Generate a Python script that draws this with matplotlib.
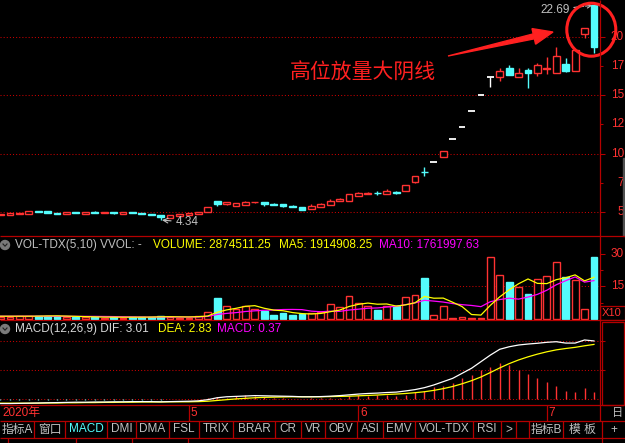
import matplotlib
matplotlib.use("Agg")
import matplotlib.pyplot as plt
from matplotlib.patches import Rectangle, Ellipse, Polygon, Circle
from matplotlib.transforms import blended_transform_factory as blend

# TDX dark theme colours
RED = "#ff3232"
CYAN = "#54fcfc"
GRID = "#c80000"
FRAME = "#b40000"
GRAY = "#c0c0c0"
YEL = "#ffff00"
MAG = "#ff00ff"

plt.rcParams["font.family"] = ["Liberation Sans", "Noto Sans CJK SC", "DejaVu Sans"]

# === DAILY K-LINE (Apr - Jul 2020) ===
opens = [4.74, 4.80, 4.85, 4.88, 5.11, 5.11, 4.97, 4.85, 5.03, 4.85,
         5.03, 4.97, 5.03, 4.85, 5.03, 4.94, 4.85, 4.77, 4.51, 4.71,
         4.80, 4.85, 5.05, 5.95, 5.73, 5.56, 5.65, 5.85, 5.88, 5.71,
         5.68, 5.56, 5.45, 5.26, 5.48, 5.65, 5.96, 5.99, 6.42, 6.56,
         6.67, 6.59, 6.73, 6.84, 7.61, 8.47, 9.27, 9.75, 11.23, 12.31,
         13.62, 14.99, 16.53, 16.53, 17.30, 16.53, 17.15, 16.92, 17.21, 16.87,
         17.64, 17.09, 20.20, 22.69]
closes = [4.88, 4.91, 4.97, 5.11, 5.03, 4.94, 4.88, 5.03, 4.94, 5.03,
          4.97, 5.03, 4.97, 5.03, 4.97, 4.88, 4.77, 4.60, 4.77, 4.85,
          4.94, 5.03, 5.43, 5.73, 5.85, 5.77, 5.90, 5.92, 5.71, 5.62,
          5.53, 5.43, 5.20, 5.54, 5.68, 5.94, 6.16, 6.54, 6.65, 6.67,
          6.62, 6.82, 6.67, 7.32, 8.07, 8.43, 9.27, 10.23, 11.23, 12.31,
          13.62, 14.99, 16.53, 17.09, 16.70, 16.90, 16.92, 17.58, 17.30, 18.35,
          17.07, 18.86, 20.71, 19.14]
highs = [4.88, 4.91, 4.97, 5.11, 5.11, 5.11, 4.97, 5.03, 5.03, 5.03,
         5.10, 5.03, 5.03, 5.03, 5.03, 4.94, 4.85, 4.77, 4.77, 4.85,
         4.94, 5.03, 5.43, 5.95, 5.90, 5.82, 5.98, 5.92, 5.88, 5.82,
         5.68, 5.65, 5.45, 5.74, 5.77, 6.14, 6.25, 6.60, 6.76, 6.76,
         6.84, 7.00, 6.82, 7.32, 8.07, 8.87, 9.27, 10.23, 11.23, 12.31,
         13.62, 14.99, 16.53, 17.30, 17.60, 17.30, 17.30, 17.78, 18.29, 19.10,
         18.15, 18.86, 20.71, 22.69]
lows = [4.74, 4.80, 4.85, 4.88, 5.03, 4.94, 4.88, 4.85, 4.94, 4.85,
        4.97, 4.97, 4.88, 4.85, 4.97, 4.88, 4.77, 4.34, 4.51, 4.71,
        4.80, 4.85, 5.05, 5.57, 5.65, 5.56, 5.65, 5.78, 5.57, 5.62,
        5.45, 5.43, 5.20, 5.26, 5.48, 5.65, 5.96, 5.99, 6.42, 6.56,
        6.48, 6.59, 6.54, 6.84, 7.48, 8.13, 9.27, 9.75, 11.23, 12.31,
        13.62, 14.99, 15.73, 16.24, 16.70, 16.53, 15.59, 16.64, 16.81, 16.87,
        17.00, 17.09, 19.86, 18.58]

# volume, in units of 100k (axis marked X10)
volume = [0.9, 1.0, 1.4, 1.4, 1.5, 1.3, 1.2, 0.9, 0.8, 0.8,
          0.8, 0.6, 0.9, 0.6, 0.9, 0.8, 0.8, 1.5, 0.8, 0.6,
          0.6, 1.4, 3.1, 9.4, 6.0, 4.3, 6.0, 4.6, 3.4, 1.8,
          2.8, 1.8, 2.2, 2.5, 3.1, 6.8, 5.5, 10.5, 7.5, 6.0,
          4.2, 6.0, 5.7, 10.2, 10.9, 18.9, 1.8, 6.0, 0.6, 0.9,
          0.6, 0.5, 28.5, 20.2, 17.1, 14.6, 11.5, 18.3, 19.7, 26.2,
          19.1, 18.0, 4.5, 28.7]
vol_ma5 = [1.2, 1.2, 1.2, 1.2, 1.24, 1.32, 1.36, 1.26, 1.14, 1.0,
           0.9, 0.78, 0.78, 0.74, 0.76, 0.76, 0.8, 0.92, 0.96, 0.9,
           0.86, 0.98, 1.3, 3.02, 4.1, 4.84, 5.76, 6.06, 4.86, 4.02,
           3.72, 2.88, 2.4, 2.22, 2.48, 3.28, 4.02, 5.68, 6.68, 7.26,
           6.74, 6.84, 5.88, 6.42, 7.4, 10.34, 9.5, 9.56, 7.64, 5.64,
           1.98, 1.72, 6.22, 10.14, 13.38, 16.18, 18.38, 16.34, 16.24, 18.06,
           18.96, 20.26, 17.5, 19.15]
vol_ma10 = [1.2, 1.2, 1.2, 1.2, 1.2, 1.2, 1.15, 1.15, 1.12, 1.12,
            1.11, 1.07, 1.02, 0.94, 0.88, 0.83, 0.79, 0.85, 0.85, 0.83,
            0.81, 0.89, 1.11, 1.99, 2.5, 2.85, 3.37, 3.68, 3.94, 4.06,
            4.28, 4.32, 4.23, 3.54, 3.25, 3.5, 3.45, 4.04, 4.45, 4.87,
            5.01, 5.43, 5.78, 6.55, 7.33, 8.54, 8.17, 7.72, 7.03, 6.52,
            6.16, 5.61, 7.89, 8.89, 9.51, 9.08, 10.05, 11.28, 13.19, 15.72,
            17.57, 19.32, 16.92, 17.62]

# MACD(12,26,9)
dif = [-0.22, -0.22, -0.21, -0.20, -0.19, -0.18, -0.17, -0.16, -0.15, -0.15,
       -0.14, -0.14, -0.13, -0.13, -0.12, -0.12, -0.12, -0.13, -0.12, -0.11,
       -0.10, -0.08, -0.02, 0.08, 0.13, 0.15, 0.17, 0.19, 0.18, 0.17,
       0.16, 0.15, 0.13, 0.13, 0.14, 0.16, 0.19, 0.23, 0.27, 0.30,
       0.32, 0.35, 0.37, 0.43, 0.50, 0.60, 0.74, 0.91, 1.08, 1.34,
       1.60, 1.94, 2.28, 2.58, 2.71, 2.80, 2.85, 2.89, 2.94, 2.97,
       2.90, 2.90, 3.06, 3.01]
dea = [-0.20, -0.20, -0.20, -0.20, -0.20, -0.19, -0.19, -0.18, -0.18, -0.17,
       -0.17, -0.16, -0.16, -0.15, -0.15, -0.14, -0.14, -0.14, -0.13, -0.13,
       -0.13, -0.12, -0.10, -0.06, -0.02, 0.02, 0.05, 0.08, 0.10, 0.11,
       0.12, 0.13, 0.13, 0.13, 0.13, 0.14, 0.15, 0.16, 0.18, 0.20,
       0.22, 0.25, 0.27, 0.30, 0.34, 0.39, 0.46, 0.55, 0.66, 0.80,
       0.96, 1.15, 1.38, 1.62, 1.84, 2.03, 2.19, 2.33, 2.45, 2.55,
       2.62, 2.68, 2.76, 2.83]
macd = [-0.03, -0.03, -0.02, -0.02, -0.02, -0.02, -0.02, -0.02, -0.02, -0.02,
        -0.02, -0.02, -0.02, -0.02, -0.02, -0.02, -0.02, -0.02, 0.02, 0.02,
        0.02, 0.03, 0.09, 0.14, 0.09, 0.17, 0.22, 0.17, 0.14, 0.09,
        0.05, 0.04, 0.03, 0.05, 0.05, 0.09, 0.09, 0.17, 0.22, 0.17,
        0.22, 0.22, 0.17, 0.22, 0.36, 0.43, 0.65, 0.70, 0.82, 1.08,
        1.25, 1.51, 1.68, 1.86, 1.77, 1.51, 1.29, 1.08, 0.91, 0.69,
        0.43, 0.40, 0.57, 0.37]

# right-axis labels: the window only shows the first digits of each label
price_ticks = [5, 10, 15, 20]
price_half = [7.5, 12.5, 17.5]
price_labels = {5: "5", 7.5: "7", 10: "10", 12.5: "12", 15: "15", 17.5: "17", 20: "20"}
vol_ticks = [15, 30]
vol_labels = {15: "15", 30: "30"}
month_pos = [20, 38, 58]
month_labels = ["5", "6", "7"]
tab_labels = ["指标A", "窗口", "MACD", "DMI", "DMA", "FSL", "TRIX", "BRAR", "CR", "VR",
              "OBV", "ASI", "EMV", "VOL-TDX", "RSI", ">", "", "指标B", "模 板", "+"]
tab_edges = [0, 34, 65, 107, 136, 169, 199, 233, 275, 301, 325, 357, 383, 415,
             473, 501, 516, 529, 563, 602, 625]

W, H = 625, 443
fig = plt.figure(figsize=(6.25, 4.43), dpi=100, facecolor="black")


def box(x0, y0, x1, y1):
    return [x0 / W, 1 - y1 / H, (x1 - x0) / W, (y1 - y0) / H]


XL, XR = -0.053, 63.64
BW = 0.72


def setup(ax, ylim):
    ax.set_facecolor("black")
    ax.set_xlim(XL, XR)
    ax.set_ylim(*ylim)
    for s in ax.spines.values():
        s.set_visible(False)
    ax.tick_params(axis="x", which="both", bottom=False, labelbottom=False)
    ax.yaxis.tick_right()
    ax.tick_params(axis="y", which="both", left=False, labelleft=False, right=True,
                   labelright=False, color=FRAME, width=0.75, direction="out")
    ax.tick_params(axis="y", which="major", length=3.6)
    ax.tick_params(axis="y", which="minor", length=2.2)


def right_labels(ax, labels):
    tr = blend(ax.transAxes, ax.transData)
    for v, lab in labels.items():
        ax.text(624 / 600, v, lab, transform=tr, ha="right", va="center",
                color=RED, fontsize=8.5, clip_on=False)


def hgrid(ax, vals):
    for v in vals:
        ax.axhline(v, color=GRID, lw=0.75, ls=(0, (1, 2)), zorder=0)


# ---------- price panel ----------
ax_p = fig.add_axes(box(0, 0, 600, 236))
setup(ax_p, (2.976, 23.13))
ax_p.set_yticks(price_ticks)
ax_p.set_yticks(price_half, minor=True)
hgrid(ax_p, price_ticks)
right_labels(ax_p, price_labels)

for i in range(len(opens)):
    o, c, h, l = opens[i], closes[i], highs[i], lows[i]
    if o == c:
        ax_p.vlines(i, l, h, color="white", lw=1.0, zorder=2)
        ax_p.hlines(c, i - BW / 2, i + BW / 2, color="white", lw=1.3, zorder=3)
    elif c > o:
        ax_p.vlines(i, c, h, color=RED, lw=1.0, zorder=2)
        ax_p.vlines(i, l, o, color=RED, lw=1.0, zorder=2)
        ax_p.add_patch(Rectangle((i - BW / 2, o), BW, c - o, facecolor="black",
                                 edgecolor=RED, lw=1.0, zorder=3))
    else:
        ax_p.vlines(i, l, h, color=CYAN, lw=1.0, zorder=2)
        ax_p.add_patch(Rectangle((i - BW / 2, c), BW, o - c, facecolor=CYAN,
                                 edgecolor=CYAN, lw=1.0, zorder=3))

ax_p.annotate("4.34", xy=(17, 4.34), xytext=(10.5, -1.5), textcoords="offset points",
              ha="left", va="center", color=GRAY, fontsize=8.5,
              arrowprops=dict(arrowstyle="->", color=GRAY, lw=0.8, shrinkA=1, shrinkB=1))
ax_p.annotate("22.69", xy=(63, 22.69), xytext=(-17.5, -3.2), textcoords="offset points",
              ha="right", va="center", color=GRAY, fontsize=8.5,
              arrowprops=dict(arrowstyle="->", color=GRAY, lw=0.8, ls="--",
                              shrinkA=1, shrinkB=1))

# ---------- volume panel ----------
ax_v = fig.add_axes(box(0, 236, 600, 320))
setup(ax_v, (-0.55, 38.2))
ax_v.set_yticks(vol_ticks)
ax_v.set_yticks([7.5, 22.5], minor=True)
hgrid(ax_v, [15])
right_labels(ax_v, vol_labels)
for i, v in enumerate(volume):
    if closes[i] >= opens[i]:
        ax_v.add_patch(Rectangle((i - BW / 2, 0), BW, v, facecolor="black",
                                 edgecolor=RED, lw=1.0, zorder=2))
    else:
        ax_v.add_patch(Rectangle((i - BW / 2, 0), BW, v, facecolor=CYAN,
                                 edgecolor=CYAN, lw=1.0, zorder=2))
x = list(range(len(volume)))
ax_v.plot(x, vol_ma10, color=MAG, lw=0.9, zorder=3)
ax_v.plot(x, vol_ma5, color=YEL, lw=0.9, zorder=4)

# ---------- MACD panel ----------
ax_m = fig.add_axes(box(0, 320, 600, 405))
setup(ax_m, (-0.294, 4.09))
ax_m.set_yticks([1.5, 3.0])
hgrid(ax_m, [0, 1.5, 3.0])
for i, m in enumerate(macd):
    ax_m.vlines(i, 0, m, color=RED if m > 0 else CYAN, lw=1.0, zorder=2)
ax_m.plot(x, dea, color=YEL, lw=0.9, zorder=3)
ax_m.plot(x, dif, color="white", lw=0.9, zorder=4)

# ---------- date row ----------
ax_d = fig.add_axes(box(0, 405, 600, 421))
setup(ax_d, (0, 1))
ax_d.tick_params(axis="y", which="both", right=False)
ax_d.vlines(month_pos, 0, 1, color=FRAME, lw=0.9)
for p, lab in zip(month_pos, month_labels):
    ax_d.text(p + 0.2, 0.5, lab, color=RED, fontsize=8.5, va="center", ha="left")
ax_d.text(0.004, 0.5, "2020年", transform=ax_d.transAxes, color=RED, fontsize=8.5,
          va="center", ha="left")

# ---------- overlay: frame, headers, tabs, annotation ----------
ov = fig.add_axes([0, 0, 1, 1])
ov.set_xlim(0, W)
ov.set_ylim(H, 0)
ov.axis("off")
ov.patch.set_alpha(0)

ov.hlines([236, 320, 405, 421, 437.5], 0, W, color=FRAME, lw=0.9)
ov.vlines(600, 0, 421, color=FRAME, lw=0.9)
ov.vlines([8, 76, 132, 188, 602], 437.5, H, color=FRAME, lw=0.9)
ov.add_patch(Rectangle((601.5, 321.5), 22, 83, fill=False, edgecolor=FRAME, lw=0.9))
ov.add_patch(Rectangle((600, 306), 25, 14, fill=False, edgecolor=FRAME, lw=0.9))
ov.text(602, 313, "X10", color=RED, fontsize=8, va="center", ha="left")
ov.add_patch(Rectangle((623, 158), 2, 78, color="#505050"))
ov.text(612, 413, "日", color=GRAY, fontsize=8, va="center", ha="left")

for yc in (245, 329):
    ov.add_patch(Circle((5, yc), 4.5, color="#7a7a7a"))
    ov.plot([3, 5, 7], [yc - 1, yc + 1.2, yc - 1], color="#202020", lw=0.8)

ov.text(15, 245, "VOL-TDX(5,10) VVOL: -", color=GRAY, fontsize=8.5, va="center")
ov.text(153, 245, "VOLUME: 2874511.25", color=YEL, fontsize=8.5, va="center")
ov.text(279, 245, "MA5: 1914908.25", color=YEL, fontsize=8.5, va="center")
ov.text(379, 245, "MA10: 1761997.63", color=MAG, fontsize=8.5, va="center")
ov.text(15, 329, "MACD(12,26,9) DIF: 3.01", color="#d8d8d8", fontsize=8.5, va="center")
ov.text(158, 329, "DEA: 2.83", color=YEL, fontsize=8.5, va="center")
ov.text(217, 329, "MACD: 0.37", color=MAG, fontsize=8.5, va="center")

ov.vlines(tab_edges[1:-1], 421, 437.5, color=FRAME, lw=0.9)
for k, lab in enumerate(tab_labels):
    xc = (tab_edges[k] + tab_edges[k + 1]) / 2
    ov.text(xc, 429.5, lab, color=CYAN if lab == "MACD" else GRAY, fontsize=8.5,
            ha="center", va="center")

# annotation: label, arrow and circle around the last candle
ov.text(362.5, 73, "高位放量大阴线", color="#ff2020", fontsize=15,
        family=["Noto Sans CJK SC"], ha="center", va="center")
ov.add_patch(Polygon([(448, 56), (534.4, 38.8), (535.6, 44.2), (553, 32),
                      (532, 28.6), (533.2, 33.9)], closed=True, color="#ff2020"))
ov.add_patch(Ellipse((591.3, 29.7), 49, 53, fill=False, edgecolor="#ff2020", lw=2.2))

fig.savefig("out.png", dpi=100, facecolor="black")
